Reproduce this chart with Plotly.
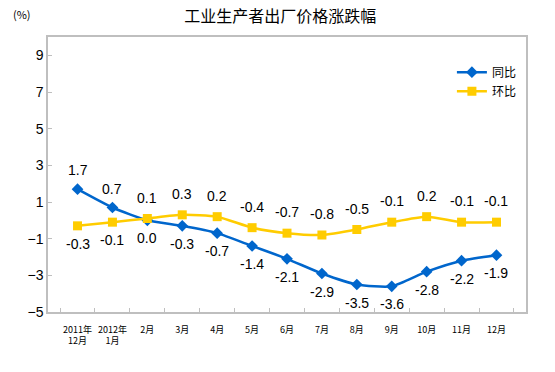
import plotly.graph_objects as go

categories = ["2011年<br>12月", "2012年<br>1月", "2月", "3月", "4月", "5月", "6月",
              "7月", "8月", "9月", "10月", "11月", "12月"]
yoy = [1.7, 0.7, 0.0, -0.3, -0.7, -1.4, -2.1, -2.9, -3.5, -3.6, -2.8, -2.2, -1.9]
mom = [-0.3, -0.1, 0.1, 0.3, 0.2, -0.4, -0.7, -0.8, -0.5, -0.1, 0.2, -0.1, -0.1]
yoy_label_up = [True, True] + [False] * 11
mom_label_up = [False, False] + [True] * 11
y_ticks = [-5, -3, -1, 1, 3, 5, 7, 9]

BLUE = "#0066CC"
YELLOW = "#FFCC00"
FONT = "Liberation Sans, Arial, sans-serif"
CJK = "Noto Sans CJK SC, sans-serif"

fig = go.Figure()
fig.add_trace(go.Scatter(
    x=categories, y=yoy, name="同比", mode="lines+markers",
    line=dict(color=BLUE, width=2.5, shape="spline", smoothing=0.6),
    marker=dict(symbol="diamond", size=9, color=BLUE),
))
fig.add_trace(go.Scatter(
    x=categories, y=mom, name="环比", mode="lines+markers",
    line=dict(color=YELLOW, width=2.5, shape="spline", smoothing=0.6),
    marker=dict(symbol="square", size=9, color=YELLOW),
))

annotations = []
for c, v, up in zip(categories, yoy, yoy_label_up):
    annotations.append(dict(x=c, y=v, text=f"{v:.1f}", showarrow=False,
                            yshift=19 if up else -18,
                            font=dict(family=FONT, size=14, color="#000")))
for c, v, up in zip(categories, mom, mom_label_up):
    annotations.append(dict(x=c, y=v, text=f"{v:.1f}", showarrow=False,
                            yshift=21 if up else -18,
                            font=dict(family=FONT, size=14, color="#000")))
annotations.append(dict(xref="paper", yref="paper", x=-0.055, y=1.085, xanchor="center",
                        yanchor="middle", text="(%)", showarrow=False,
                        font=dict(family=CJK, size=11, color="#000")))
fig.update_layout(annotations=annotations)

fig.update_layout(
    width=555, height=372,
    margin=dict(l=48, r=29, t=37, b=60, autoexpand=False),
    paper_bgcolor="white", plot_bgcolor="white",
    title=dict(text="工业生产者出厂价格涨跌幅", x=0.505, xanchor="center",
               y=0.955, yanchor="middle",
               font=dict(family=CJK, size=16, color="#000")),
    showlegend=True,
    legend=dict(x=0.845, y=0.925, xanchor="left", yanchor="top",
                bgcolor="rgba(0,0,0,0)", font=dict(family=CJK, size=12, color="#000"),
                itemwidth=30, tracegroupgap=2),
    xaxis=dict(type="category", tickson="boundaries", ticks="inside", ticklen=4,
               tickangle=0, automargin=False, ticklabelstandoff=8,
               tickcolor="#bfbfbf", showline=True, linecolor="#bfbfbf", linewidth=1.5,
               mirror=True, showgrid=False,
               tickfont=dict(family=CJK, size=9, color="#000")),
    yaxis=dict(range=[-5, 10], tickvals=y_ticks, ticks="inside", ticklen=4,
               automargin=False,
               tickcolor="#bfbfbf", showline=True, linecolor="#bfbfbf", linewidth=1.5,
               mirror=True, showgrid=False, zeroline=False,
               tickfont=dict(family=FONT, size=14, color="#000")),
)

fig.write_html("out.html", config={"displayModeBar": False},
               post_script="document.body.style.margin='0';")
